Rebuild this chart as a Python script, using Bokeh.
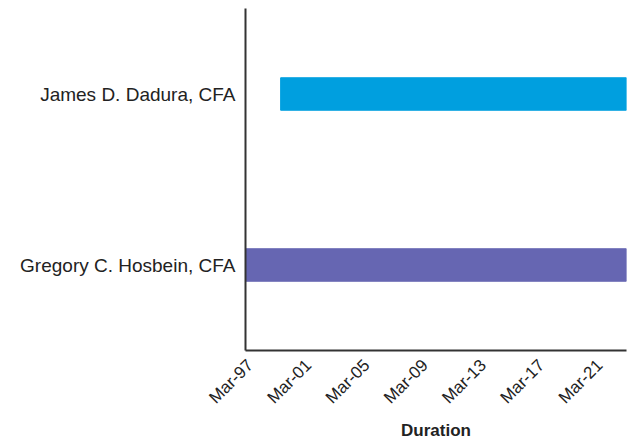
import math
from datetime import datetime
from bokeh.plotting import figure
from bokeh.models import Range1d, FixedTicker, DatetimeTickFormatter, ColumnDataSource
from bokeh.embed import file_html
from bokeh.resources import INLINE

managers = ["Gregory C. Hosbein, CFA", "James D. Dadura, CFA"]
starts = [datetime(1996, 11, 1), datetime(1999, 4, 1)]
ends = [datetime(2022, 12, 31), datetime(2022, 12, 31)]
colors = ["#6666B2", "#009FDF"]
tick_dates = [datetime(y, 3, 1) for y in [1997, 2001, 2005, 2009, 2013, 2017, 2021]]

def ms(d):
    return (d - datetime(1970, 1, 1)).total_seconds() * 1000.0

src = ColumnDataSource(dict(manager=managers, start=starts, end=ends, color=colors))

p = figure(width=636, height=444, y_range=managers, x_axis_type="datetime",
           x_range=Range1d(starts[0], ends[0]),
           output_backend="svg", toolbar_location=None,
           min_border_left=245, min_border_right=10, min_border_top=8, min_border_bottom=94)

p.hbar(y="manager", left="start", right="end", height=0.19, color="color", source=src)

p.outline_line_color = None
p.xgrid.visible = False
p.ygrid.visible = False

for ax in (p.xaxis[0], p.yaxis[0]):
    ax.axis_line_width = 2
    ax.axis_line_color = "#333333"
    ax.major_tick_line_color = None
    ax.minor_tick_line_color = None
    ax.major_tick_out = 0
    ax.major_tick_in = 0
    ax.minor_tick_out = 0
    ax.major_label_text_font = "Liberation Sans"
    ax.major_label_text_color = "#222222"

p.yaxis.major_label_text_font_size = "19px"
p.yaxis.major_label_standoff = 10

p.xaxis.major_label_text_font_size = "17px"
p.xaxis.ticker = FixedTicker(ticks=[ms(d) for d in tick_dates])
fmt = "%b-%y"
p.xaxis.formatter = DatetimeTickFormatter(years=fmt, months=fmt, days=fmt, hours=fmt,
                                          minutes=fmt, seconds=fmt, milliseconds=fmt,
                                          microseconds=fmt, hourmin=fmt, minsec=fmt)
p.xaxis.major_label_orientation = math.pi / 4
p.xaxis.major_label_standoff = 12
p.xaxis.axis_label = "Duration"
p.xaxis.axis_label_text_font = "Liberation Sans"
p.xaxis.axis_label_text_font_style = "bold"
p.xaxis.axis_label_text_font_size = "17px"
p.xaxis.axis_label_text_color = "#222222"
p.xaxis.axis_label_standoff = 4

open("out.html", "w").write(file_html(p, INLINE))
